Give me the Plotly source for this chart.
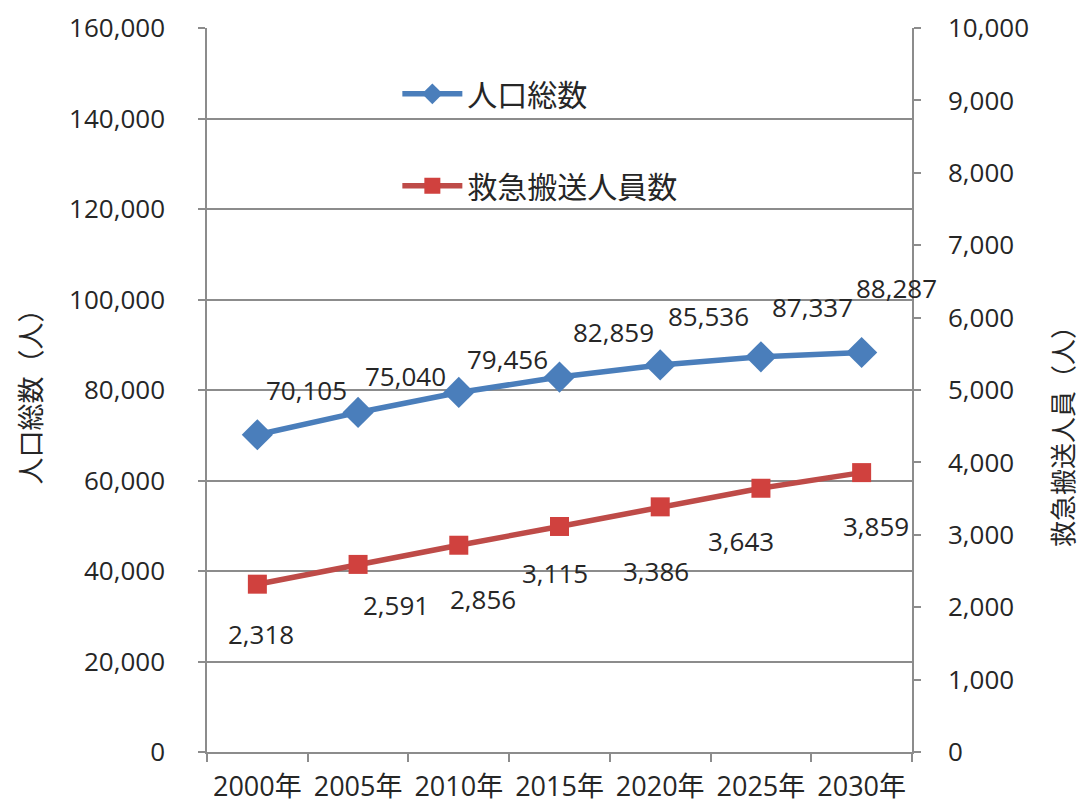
import plotly.graph_objects as go

years = ["2000年", "2005年", "2010年", "2015年", "2020年", "2025年", "2030年"]
population = [70105, 75040, 79456, 82859, 85536, 87337, 88287]
transports = [2318, 2591, 2856, 3115, 3386, 3643, 3859]

# pixel offsets of each data label relative to its point
pop_label_dx = [49, 47, 49, 54, 48, 52, 35]
pop_label_dy = [45, 36, 33, 45, 49, 50, 65]
tr_label_dx = [4, 38, 24, -5, -4, -20, 14]
tr_label_dy = [-50, -41, -54, -47, -64, -53, -53]

FONT = "Open Sans, Noto Sans CJK JP, sans-serif"
TEXT = "#262626"
GRID = "#8c8c8c"
BLUE = "#4A7EBB"
RED = "#BE4B48"

fig = go.Figure()
fig.add_trace(go.Scatter(
    x=years, y=population, name="人口総数", mode="lines+markers",
    line=dict(color=BLUE, width=5.5),
    marker=dict(symbol="diamond", size=24, color=BLUE),
    legendgroup="a", yaxis="y",
))
fig.add_trace(go.Scatter(
    x=years, y=transports, name="救急搬送人員数", mode="lines+markers",
    line=dict(color=RED, width=5.5),
    marker=dict(symbol="square", size=19, color="#D0413E"),
    legendgroup="b", yaxis="y2",
))

annotations = []
for x, v, dx, dy in zip(years, population, pop_label_dx, pop_label_dy):
    annotations.append(dict(x=x, y=v, xref="x", yref="y", text=f"{v:,}",
                            showarrow=False, xshift=dx, yshift=dy,
                            font=dict(family=FONT, size=26, color=TEXT)))
for x, v, dx, dy in zip(years, transports, tr_label_dx, tr_label_dy):
    annotations.append(dict(x=x, y=v, xref="x", yref="y2", text=f"{v:,}",
                            showarrow=False, xshift=dx, yshift=dy,
                            font=dict(family=FONT, size=26, color=TEXT)))

# right-hand axis title
annotations.append(dict(text="救急搬送人員（人）", xref="paper", yref="paper",
                        x=1.2145, y=0.445, xanchor="center", yanchor="middle",
                        textangle=-90, showarrow=False,
                        font=dict(family=FONT, size=26, color=TEXT)))

fig.update_layout(
    width=1084, height=808,
    margin=dict(l=207, r=172, t=28, b=56),
    paper_bgcolor="white", plot_bgcolor="white",
    font=dict(family=FONT, size=26, color=TEXT),
    showlegend=True,
    legend=dict(x=0.27, y=0.945, xanchor="left", yanchor="top",
                bgcolor="rgba(0,0,0,0)", tracegroupgap=50, itemwidth=60,
                font=dict(family=FONT, size=30, color=TEXT)),
    xaxis=dict(type="category", range=[-0.5, 6.5], tickson="boundaries",
               ticks="outside", ticklen=8, tickcolor=GRID, tickwidth=1.5,
               showline=True, linecolor=GRID, linewidth=1.5,
               showgrid=False, ticklabelstandoff=10, tickangle=0,
               automargin=False,
               tickfont=dict(family=FONT, size=27, color=TEXT)),
    yaxis=dict(range=[0, 160000], dtick=20000, tickformat=",",
               ticks="outside", ticklen=7, tickcolor=GRID, tickwidth=1.5,
               showline=True, linecolor=GRID, linewidth=1.5,
               showgrid=True, gridcolor=GRID, gridwidth=1.5,
               zeroline=False, ticklabelstandoff=28, automargin=False,
               title=dict(text="人口総数（人）", standoff=20,
                          font=dict(family=FONT, size=27, color=TEXT)),
               tickfont=dict(family=FONT, size=26, color=TEXT)),
    yaxis2=dict(range=[0, 10000], dtick=1000, tickformat=",",
                overlaying="y", side="right",
                ticks="outside", ticklen=7, tickcolor=GRID, tickwidth=1.5,
                showline=True, linecolor=GRID, linewidth=1.5,
                showgrid=False, zeroline=False, ticklabelstandoff=22,
                automargin=False,
                tickfont=dict(family=FONT, size=26, color=TEXT)),
    annotations=annotations,
)

fig.write_html("out.html")
